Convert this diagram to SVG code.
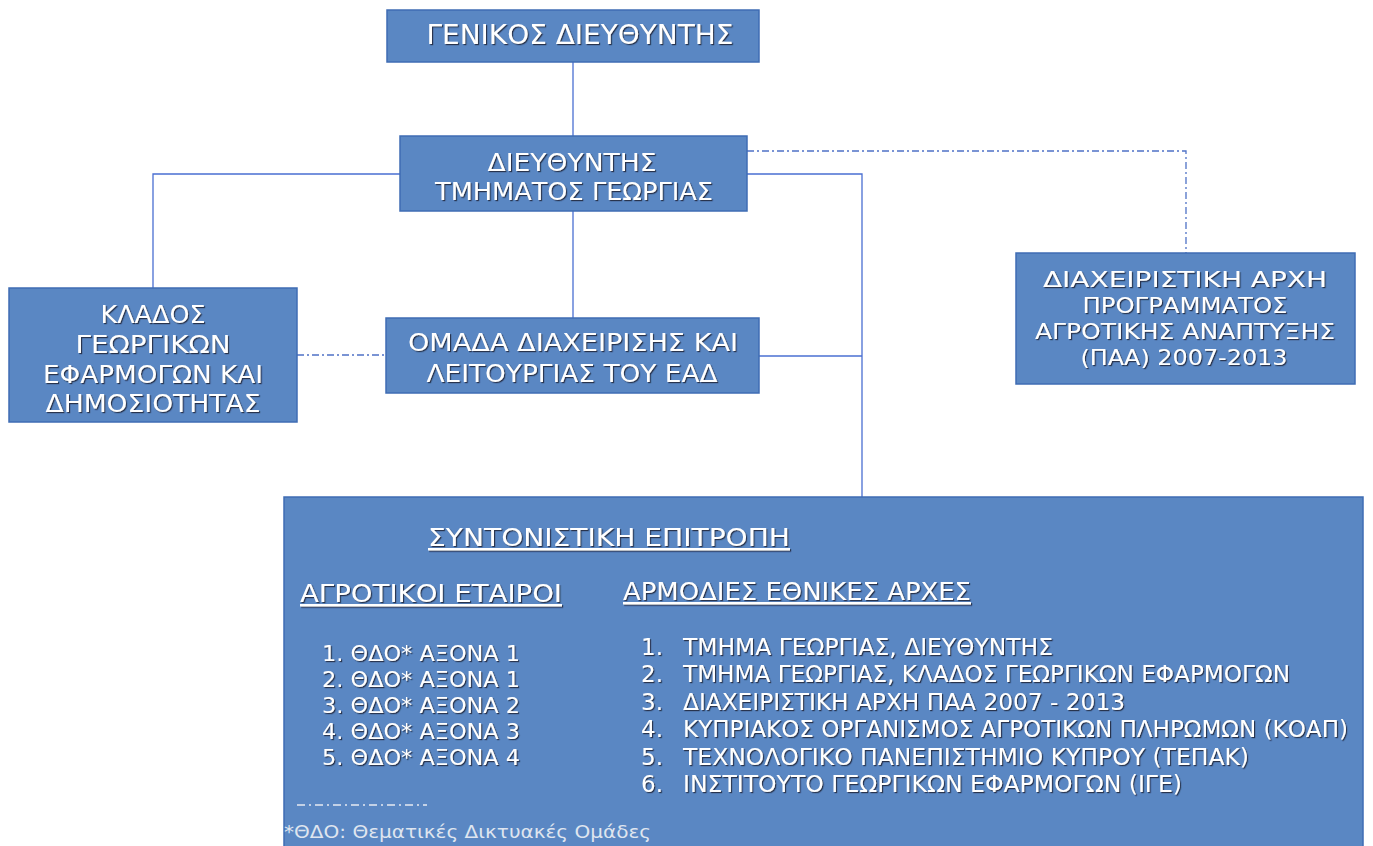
<svg xmlns="http://www.w3.org/2000/svg" width="1373" height="846" viewBox="0 0 1373 846">
<defs>
<filter id="sh" x="-5%" y="-20%" width="110%" height="150%">
<feDropShadow dx="1.2" dy="1.2" stdDeviation="0.5" flood-color="#1b2738" flood-opacity="0.85"/>
</filter>
<style>
.box{fill:#5a87c3;stroke:#3f6cb4;stroke-width:1.5}
.t{font-family:"DejaVu Sans","Liberation Sans",sans-serif;fill:#ffffff;filter:url(#sh)}
.c{text-anchor:middle}
.u{text-decoration:underline}
.con{fill:none;stroke:#4a6fd2;stroke-width:1.3}
.dd{fill:none;stroke:#4f72c6;stroke-width:1.3;stroke-dasharray:7 3 2 3}
.leg{font-family:"DejaVu Sans","Liberation Sans",sans-serif;fill:#dfe5ef}
</style>
</defs>
<rect width="1373" height="846" fill="#ffffff"/>

<g id="connectors">
<path class="con" d="M573 62 V136"/>
<path class="con" d="M573 211 V318"/>
<path class="con" d="M400 174 H153 V288"/>
<path class="con" d="M747 174 H862 V497"/>
<path class="con" d="M759 356 H862"/>
<path class="dd" d="M747 151 H1186 V253"/>
<path class="dd" d="M297 355 H386"/>
</g>

<g id="node-general-director">
<rect class="box" x="387" y="10" width="372" height="52"/>
<text class="t c" x="580" y="44" font-size="26" textLength="307" lengthAdjust="spacingAndGlyphs">ΓΕΝΙΚΟΣ ΔΙΕΥΘΥΝΤΗΣ</text>
</g>

<g id="node-director-agriculture">
<rect class="box" x="400" y="136" width="347" height="75"/>
<text class="t c" x="572" y="171" font-size="25" textLength="169" lengthAdjust="spacingAndGlyphs">ΔΙΕΥΘΥΝΤΗΣ</text>
<text class="t c" x="574" y="200" font-size="25" textLength="278" lengthAdjust="spacingAndGlyphs">ΤΜΗΜΑΤΟΣ ΓΕΩΡΓΙΑΣ</text>
</g>

<g id="node-branch">
<rect class="box" x="9" y="288" width="288" height="134"/>
<text class="t c" x="153" y="323" font-size="25" textLength="105" lengthAdjust="spacingAndGlyphs">ΚΛΑΔΟΣ</text>
<text class="t c" x="153" y="353" font-size="25" textLength="155" lengthAdjust="spacingAndGlyphs">ΓΕΩΡΓΙΚΩΝ</text>
<text class="t c" x="153" y="383" font-size="25" textLength="220" lengthAdjust="spacingAndGlyphs">ΕΦΑΡΜΟΓΩΝ ΚΑΙ</text>
<text class="t c" x="153" y="412" font-size="25" textLength="215" lengthAdjust="spacingAndGlyphs">ΔΗΜΟΣΙΟΤΗΤΑΣ</text>
</g>

<g id="node-team">
<rect class="box" x="386" y="318" width="373" height="75"/>
<text class="t c" x="573" y="351" font-size="25" textLength="330" lengthAdjust="spacingAndGlyphs">ΟΜΑΔΑ ΔΙΑΧΕΙΡΙΣΗΣ ΚΑΙ</text>
<text class="t c" x="572" y="382" font-size="25" textLength="291" lengthAdjust="spacingAndGlyphs">ΛΕΙΤΟΥΡΓΙΑΣ ΤΟΥ ΕΑΔ</text>
</g>

<g id="node-managing-authority">
<rect class="box" x="1016" y="253" width="339" height="131"/>
<text class="t c" x="1185" y="287" font-size="22" textLength="284" lengthAdjust="spacingAndGlyphs">ΔΙΑΧΕΙΡΙΣΤΙΚΗ ΑΡΧΗ</text>
<text class="t c" x="1185" y="313" font-size="22" textLength="205" lengthAdjust="spacingAndGlyphs">ΠΡΟΓΡΑΜΜΑΤΟΣ</text>
<text class="t c" x="1185" y="339" font-size="22" textLength="300" lengthAdjust="spacingAndGlyphs">ΑΓΡΟΤΙΚΗΣ ΑΝΑΠΤΥΞΗΣ</text>
<text class="t c" x="1184" y="365" font-size="22" textLength="207" lengthAdjust="spacingAndGlyphs">(ΠΑΑ) 2007-2013</text>
</g>

<g id="node-coordinating-committee">
<rect class="box" x="284" y="497" width="1079" height="360"/>
<text class="t u" x="428" y="546" font-size="25" textLength="362" lengthAdjust="spacingAndGlyphs">ΣΥΝΤΟΝΙΣΤΙΚΗ ΕΠΙΤΡΟΠΗ</text>
<text class="t u" x="300" y="602" font-size="25" textLength="262" lengthAdjust="spacingAndGlyphs">ΑΓΡΟΤΙΚΟΙ ΕΤΑΙΡΟΙ</text>
<text class="t u" x="623" y="600" font-size="25" textLength="348" lengthAdjust="spacingAndGlyphs">ΑΡΜΟΔΙΕΣ ΕΘΝΙΚΕΣ ΑΡΧΕΣ</text>

<text class="t" x="322" y="661" font-size="22" textLength="198" lengthAdjust="spacingAndGlyphs">1. ΘΔΟ* ΑΞΟΝΑ 1</text>
<text class="t" x="322" y="687" font-size="22" textLength="198" lengthAdjust="spacingAndGlyphs">2. ΘΔΟ* ΑΞΟΝΑ 1</text>
<text class="t" x="322" y="713" font-size="22" textLength="198" lengthAdjust="spacingAndGlyphs">3. ΘΔΟ* ΑΞΟΝΑ 2</text>
<text class="t" x="322" y="739" font-size="22" textLength="198" lengthAdjust="spacingAndGlyphs">4. ΘΔΟ* ΑΞΟΝΑ 3</text>
<text class="t" x="322" y="765" font-size="22" textLength="198" lengthAdjust="spacingAndGlyphs">5. ΘΔΟ* ΑΞΟΝΑ 4</text>

<text class="t" x="641" y="655" font-size="23">1.</text>
<text class="t" x="683" y="655" font-size="23" textLength="370" lengthAdjust="spacingAndGlyphs">ΤΜΗΜΑ ΓΕΩΡΓΙΑΣ, ΔΙΕΥΘΥΝΤΗΣ</text>
<text class="t" x="641" y="682" font-size="23">2.</text>
<text class="t" x="683" y="682" font-size="23" textLength="607" lengthAdjust="spacingAndGlyphs">ΤΜΗΜΑ ΓΕΩΡΓΙΑΣ, ΚΛΑΔΟΣ ΓΕΩΡΓΙΚΩΝ ΕΦΑΡΜΟΓΩΝ</text>
<text class="t" x="641" y="710" font-size="23">3.</text>
<text class="t" x="683" y="710" font-size="23" textLength="442" lengthAdjust="spacingAndGlyphs">ΔΙΑΧΕΙΡΙΣΤΙΚΗ ΑΡΧΗ ΠΑΑ 2007 - 2013</text>
<text class="t" x="641" y="737" font-size="23">4.</text>
<text class="t" x="683" y="737" font-size="23" textLength="665" lengthAdjust="spacingAndGlyphs">ΚΥΠΡΙΑΚΟΣ ΟΡΓΑΝΙΣΜΟΣ ΑΓΡΟΤΙΚΩΝ ΠΛΗΡΩΜΩΝ (ΚΟΑΠ)</text>
<text class="t" x="641" y="765" font-size="23">5.</text>
<text class="t" x="683" y="765" font-size="23" textLength="566" lengthAdjust="spacingAndGlyphs">ΤΕΧΝΟΛΟΓΙΚΟ ΠΑΝΕΠΙΣΤΗΜΙΟ ΚΥΠΡΟΥ (ΤΕΠΑΚ)</text>
<text class="t" x="641" y="792" font-size="23">6.</text>
<text class="t" x="683" y="792" font-size="23" textLength="499" lengthAdjust="spacingAndGlyphs">ΙΝΣΤΙΤΟΥΤΟ ΓΕΩΡΓΙΚΩΝ ΕΦΑΡΜΟΓΩΝ (ΙΓΕ)</text>

<path d="M297 805 H427" fill="none" stroke="#e6eaf2" stroke-width="1.6" stroke-dasharray="8 4 2 4"/>
<text class="leg" x="284" y="838" font-size="18" textLength="367" lengthAdjust="spacingAndGlyphs">*ΘΔΟ: Θεματικές Δικτυακές Ομάδες</text>
</g>
</svg>
